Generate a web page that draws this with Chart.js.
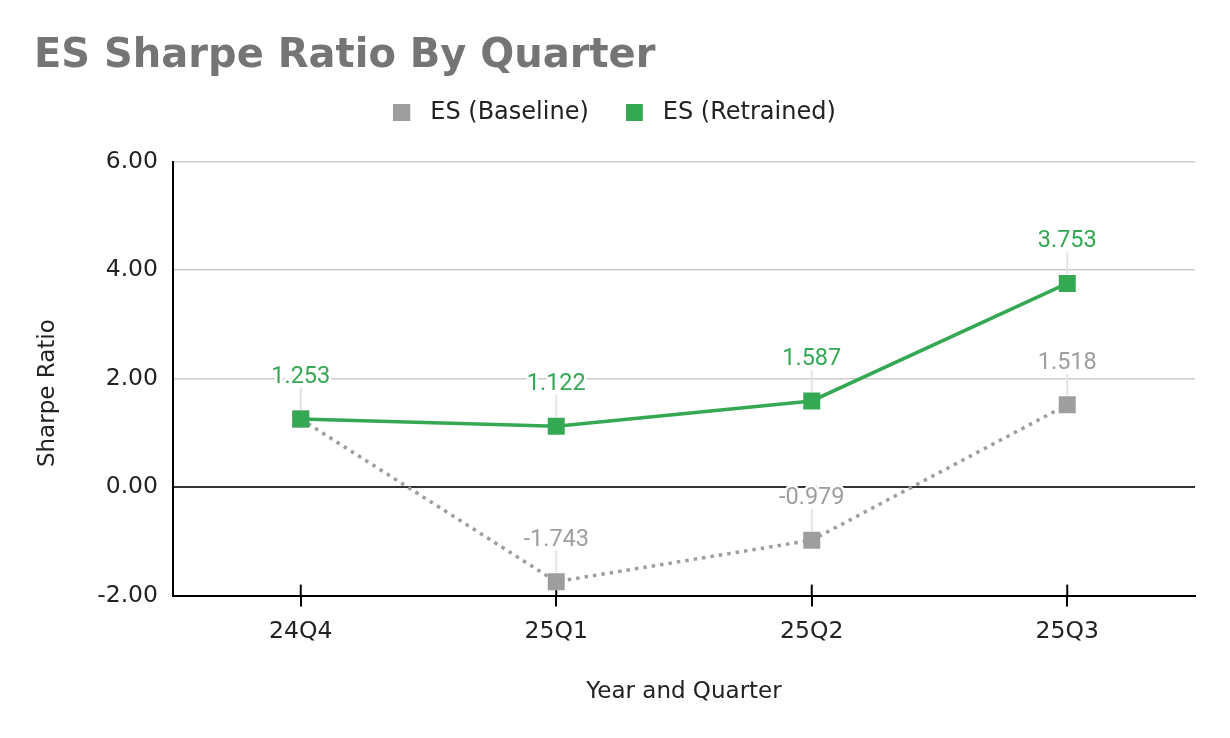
<!DOCTYPE html>
<html>
<head>
<meta charset="utf-8">
<script src="https://cdn.jsdelivr.net/npm/chart.js@4"></script>
<style>
html,body{margin:0;padding:0;background:#fff;}
#wrap{width:1230px;height:738px;}
</style>
</head>
<body>
<div id="wrap"><canvas id="c" width="1230" height="738"></canvas></div>
<script>
// ---- data ----
const categories = ['24Q4', '25Q1', '25Q2', '25Q3'];
const baselineValues = [1.253, -1.743, -0.979, 1.518];
const retrainedValues = [1.253, 1.122, 1.587, 3.753];
const seriesNames = ['ES (Baseline)', 'ES (Retrained)'];
const yTickValues = [-2, 0, 2, 4, 6];
const chartTitle = 'ES Sharpe Ratio By Quarter';
const xAxisTitle = 'Year and Quarter';
const yAxisTitle = 'Sharpe Ratio';

// ---- styles ----
const GREEN = '#34a853';
const GREY = '#9e9e9e';

Chart.defaults.font.family = "'DejaVu Sans', sans-serif";
Chart.defaults.color = '#222';

function legendMarker(color) {
  const c = document.createElement('canvas');
  c.width = 25; c.height = 17;
  const g = c.getContext('2d');
  g.fillStyle = color;
  g.fillRect(0, 0, 17, 17);
  return c;
}

const spacerPlugin = {
  id: 'spacer',
  beforeInit(chart) {
    const box = {
      position: 'top', weight: 0, fullSize: true, options: {},
      left: 0, top: 0, right: 0, bottom: 0, width: 0, height: 0,
      isHorizontal() { return true; },
      update(maxWidth) { this.width = maxWidth; this.height = 27; },
      draw() {},
      getPadding() { return {top: 0, left: 0, right: 0, bottom: 0}; }
    };
    Chart.layouts.addBox(chart, box);
  }
};

const innerTicks = {
  id: 'innerTicks',
  beforeDatasetsDraw(chart) {
    const s = chart.scales.x, ctx = chart.ctx;
    ctx.save();
    ctx.strokeStyle = '#000';
    ctx.lineWidth = 2;
    s.ticks.forEach((t, i) => {
      const x = s.getPixelForTick(i);
      ctx.beginPath();
      ctx.moveTo(x, s.top);
      ctx.lineTo(x, s.top - 11);
      ctx.stroke();
    });
    ctx.restore();
  }
};

const valueLabels = {
  id: 'valueLabels',
  afterDatasetsDraw(chart) {
    const ctx = chart.ctx;
    ctx.save();
    ctx.font = '23.5px Roboto';
    ctx.textAlign = 'center';
    ctx.textBaseline = 'alphabetic';
    ctx.lineJoin = 'round';
    chart.data.datasets.forEach((ds, di) => {
      const meta = chart.getDatasetMeta(di);
      meta.data.forEach((pt, j) => {
        const v = ds.data[j];
        ctx.strokeStyle = '#e4e4e4';
        ctx.lineWidth = 2;
        ctx.beginPath();
        ctx.moveTo(pt.x, pt.y - 9);
        ctx.lineTo(pt.x, pt.y - 31);
        ctx.stroke();
        const txt = v.toFixed(3);
        ctx.strokeStyle = '#fff';
        ctx.lineWidth = 5;
        ctx.strokeText(txt, pt.x, pt.y - 36);
        ctx.fillStyle = ds.borderColor;
        ctx.fillText(txt, pt.x, pt.y - 36);
      });
    });
    ctx.restore();
  }
};

new Chart(document.getElementById('c'), {
  type: 'line',
  data: {
    labels: categories,
    datasets: [
      {
        label: seriesNames[0], data: baselineValues, order: 1,
        borderColor: GREY, backgroundColor: GREY,
        borderWidth: 3.5, borderDash: [3.5, 5], tension: 0,
        pointStyle: 'rect', pointRadius: 12, pointHoverRadius: 12,
        pointBorderWidth: 0, pointBackgroundColor: GREY
      },
      {
        label: seriesNames[1], data: retrainedValues, order: 0,
        borderColor: GREEN, backgroundColor: GREEN,
        borderWidth: 3.5, tension: 0,
        pointStyle: 'rect', pointRadius: 12, pointHoverRadius: 12,
        pointBorderWidth: 0, pointBackgroundColor: GREEN
      }
    ]
  },
  options: {
    responsive: false,
    animation: false,
    layout: { padding: { top: 0, left: 34, right: 35, bottom: 20 } },
    plugins: {
      tooltip: { enabled: false },
      title: {
        display: true, text: chartTitle, align: 'start', color: '#757575',
        font: { size: 40, weight: 'bold', lineHeight: 1.2 },
        padding: { top: 32.5, bottom: -17 }
      },
      legend: {
        display: true, position: 'top', align: 'center',
        labels: {
          usePointStyle: true, pointStyleWidth: 25, boxHeight: 17,
          padding: 37, color: '#222', font: { size: 24 },
          generateLabels(chart) {
            return chart.data.datasets.map((ds, i) => ({
              text: ds.label, fillStyle: ds.borderColor, strokeStyle: ds.borderColor,
              lineWidth: 0, lineDash: [], hidden: !chart.isDatasetVisible(i),
              datasetIndex: i, pointStyle: legendMarker(ds.borderColor), fontColor: '#222'
            }));
          }
        }
      }
    },
    scales: {
      x: {
        offset: true,
        grid: { display: true, drawOnChartArea: false, drawTicks: true, tickLength: 11, color: '#000', lineWidth: 2 },
        border: { display: true, color: '#000', width: 2 },
        ticks: { padding: 11, color: '#222', font: { size: 23.5 } },
        title: { display: true, text: xAxisTitle, color: '#222', font: { size: 23 }, padding: { top: 21, bottom: 12.6 } }
      },
      y: {
        min: -2, max: 6,
        afterBuildTicks(s) { s.ticks = yTickValues.map(v => ({ value: v })); },
        afterFit(s) { s.width = 139; },
        grid: {
          drawTicks: false,
          color: c => (c.tick && c.tick.value === 0) ? '#333' : '#cccccc',
          lineWidth: c => (c.tick && c.tick.value === 0) ? 2 : 1.5
        },
        border: { display: true, color: '#000', width: 2 },
        ticks: { padding: 15, color: '#222', font: { size: 23.5 }, callback: v => Number(v).toFixed(2) },
        title: { display: true, text: yAxisTitle + '    ', color: '#222', font: { size: 23 }, padding: { top: 0, bottom: 0 } }
      }
    }
  },
  plugins: [spacerPlugin, innerTicks, valueLabels]
});
</script>
</body>
</html>
